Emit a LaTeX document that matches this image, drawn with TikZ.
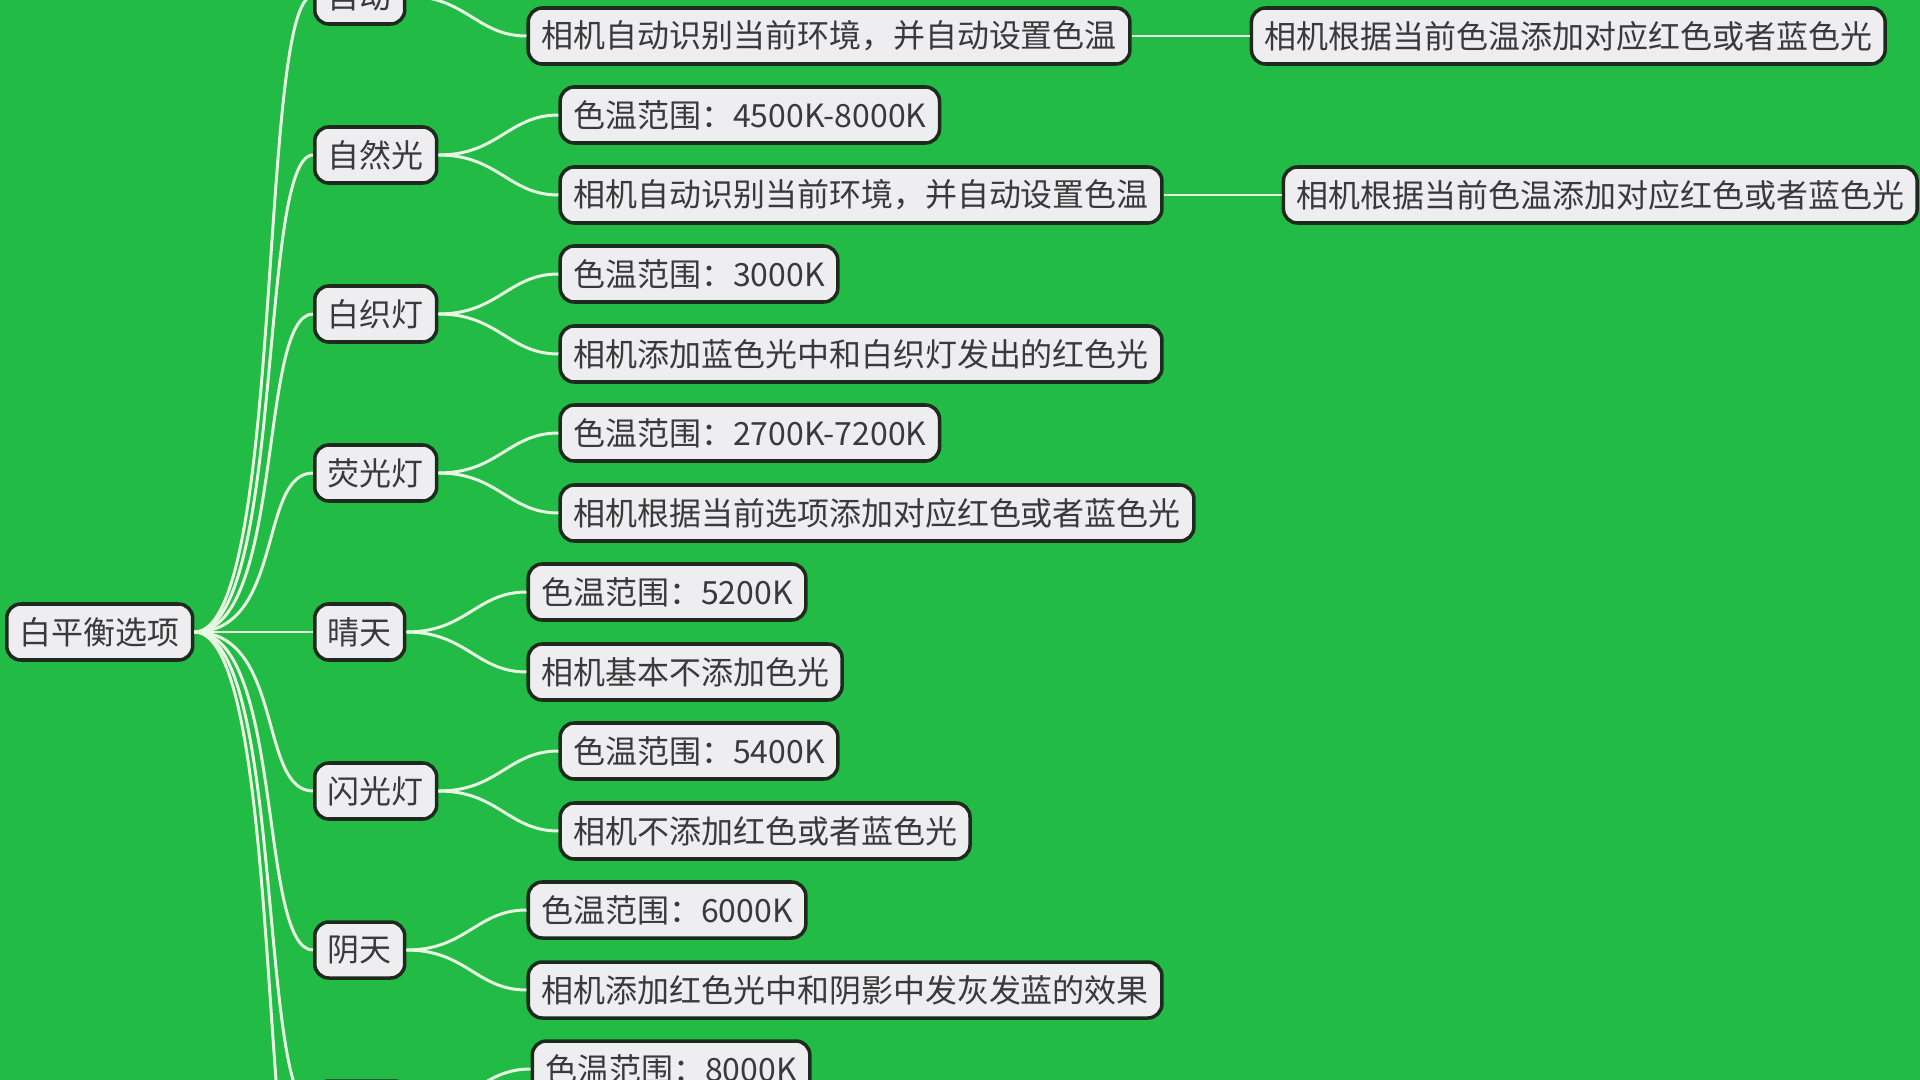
\documentclass[tikz,border=0pt]{standalone}
\usepackage{fontspec}
\newfontfamily\cjk{Noto Sans CJK SC}
\usetikzlibrary{positioning}

\definecolor{bggreen}{HTML}{22BB45}
\definecolor{boxfill}{HTML}{EEEEF0}
\definecolor{boxline}{HTML}{1F2A1F}
\definecolor{boxtext}{HTML}{3A3A3A}
\definecolor{linkcol}{HTML}{E6F6E0}

\begin{document}
\begin{tikzpicture}[
    y=-1cm,
    every node/.style={font=\cjk\fontsize{9.1pt}{11pt}\selectfont},
    box/.style={
        rectangle,
        draw=boxline,
        line width=1pt,
        fill=boxfill,
        text=boxtext,
        rounded corners=4pt,
        minimum height=0.56cm,
        inner xsep=0.13cm,
        inner ysep=0pt
    },
    link/.style={
        draw=linkcol,
        line width=0.85pt
    }
]

% 背景
\fill[bggreen] (0,0) rectangle (19.2,10.8);
\useasboundingbox (0,0) rectangle (19.2,10.8);

% 根节点
\node[box, anchor=west] (root) at (0.05,6.32) {白平衡选项};

% 第一层
\node[box, anchor=west] (zidong) at (3.13,-0.04) {自动};
\node[box, anchor=west] (ziran) at (3.13,1.55) {自然光};
\node[box, anchor=west] (baizhi) at (3.13,3.14) {白织灯};
\node[box, anchor=west] (yingguang) at (3.13,4.73) {荧光灯};
\node[box, anchor=west] (qingtian) at (3.13,6.32) {晴天};
\node[box, anchor=west] (shanguang) at (3.13,7.91) {闪光灯};
\node[box, anchor=west] (yintian) at (3.13,9.50) {阴天};
\node[box, anchor=west, minimum width=0.94cm] (more1) at (3.13,11.09) {};
\coordinate (more2) at (3.13,12.68);

% 第二层
\node[box, right=1.2cm of zidong, yshift=-4mm] (zd2) {相机自动识别当前环境，并自动设置色温};
\node[box, right=1.2cm of ziran, yshift=4mm] (zr1) {色温范围：4500K-8000K};
\node[box, right=1.2cm of ziran, yshift=-4mm] (zr2) {相机自动识别当前环境，并自动设置色温};
\node[box, right=1.2cm of baizhi, yshift=4mm] (bz1) {色温范围：3000K};
\node[box, right=1.2cm of baizhi, yshift=-4mm] (bz2) {相机添加蓝色光中和白织灯发出的红色光};
\node[box, right=1.2cm of yingguang, yshift=4mm] (yg1) {色温范围：2700K-7200K};
\node[box, right=1.2cm of yingguang, yshift=-4mm] (yg2) {相机根据当前选项添加对应红色或者蓝色光};
\node[box, right=1.2cm of qingtian, yshift=4mm] (qt1) {色温范围：5200K};
\node[box, right=1.2cm of qingtian, yshift=-4mm] (qt2) {相机基本不添加色光};
\node[box, right=1.2cm of shanguang, yshift=4mm] (sg1) {色温范围：5400K};
\node[box, right=1.2cm of shanguang, yshift=-4mm] (sg2) {相机不添加红色或者蓝色光};
\node[box, right=1.2cm of yintian, yshift=4mm] (yt1) {色温范围：6000K};
\node[box, right=1.2cm of yintian, yshift=-4mm] (yt2) {相机添加红色光中和阴影中发灰发蓝的效果};
\node[box, right=1.2cm of more1, yshift=4mm] (mo1) {色温范围：8000K};

% 第三层
\node[box, right=1.18cm of zd2] (zd3) {相机根据当前色温添加对应红色或者蓝色光};
\node[box, right=1.18cm of zr2] (zr3) {相机根据当前色温添加对应红色或者蓝色光};

% 根节点连线
\draw[link] (root.east) .. controls +(0.9,0) and +(-0.55,0) .. (zidong.west);
\draw[link] (root.east) .. controls +(0.9,0) and +(-0.55,0) .. (ziran.west);
\draw[link] (root.east) .. controls +(0.9,0) and +(-0.55,0) .. (baizhi.west);
\draw[link] (root.east) .. controls +(0.9,0) and +(-0.55,0) .. (yingguang.west);
\draw[link] (root.east) -- (qingtian.west);
\draw[link] (root.east) .. controls +(0.9,0) and +(-0.55,0) .. (shanguang.west);
\draw[link] (root.east) .. controls +(0.9,0) and +(-0.55,0) .. (yintian.west);
\draw[link] (root.east) .. controls +(0.9,0) and +(-0.55,0) .. (more1.west);
\draw[link] (root.east) .. controls +(0.9,0) and +(-0.55,0) .. (more2);

% 第二层连线
\draw[link] (zidong.east) .. controls +(0.6,0) and +(-0.5,0) .. (zd2.west);
\draw[link] (ziran.east) .. controls +(0.6,0) and +(-0.5,0) .. (zr1.west);
\draw[link] (ziran.east) .. controls +(0.6,0) and +(-0.5,0) .. (zr2.west);
\draw[link] (baizhi.east) .. controls +(0.6,0) and +(-0.5,0) .. (bz1.west);
\draw[link] (baizhi.east) .. controls +(0.6,0) and +(-0.5,0) .. (bz2.west);
\draw[link] (yingguang.east) .. controls +(0.6,0) and +(-0.5,0) .. (yg1.west);
\draw[link] (yingguang.east) .. controls +(0.6,0) and +(-0.5,0) .. (yg2.west);
\draw[link] (qingtian.east) .. controls +(0.6,0) and +(-0.5,0) .. (qt1.west);
\draw[link] (qingtian.east) .. controls +(0.6,0) and +(-0.5,0) .. (qt2.west);
\draw[link] (shanguang.east) .. controls +(0.6,0) and +(-0.5,0) .. (sg1.west);
\draw[link] (shanguang.east) .. controls +(0.6,0) and +(-0.5,0) .. (sg2.west);
\draw[link] (yintian.east) .. controls +(0.6,0) and +(-0.5,0) .. (yt1.west);
\draw[link] (yintian.east) .. controls +(0.6,0) and +(-0.5,0) .. (yt2.west);
\draw[link] (more1.east) .. controls +(0.6,0) and +(-0.5,0) .. (mo1.west);

% 第三层连线
\draw[link] (zd2) -- (zd3);
\draw[link] (zr2) -- (zr3);

\end{tikzpicture}
\end{document}
